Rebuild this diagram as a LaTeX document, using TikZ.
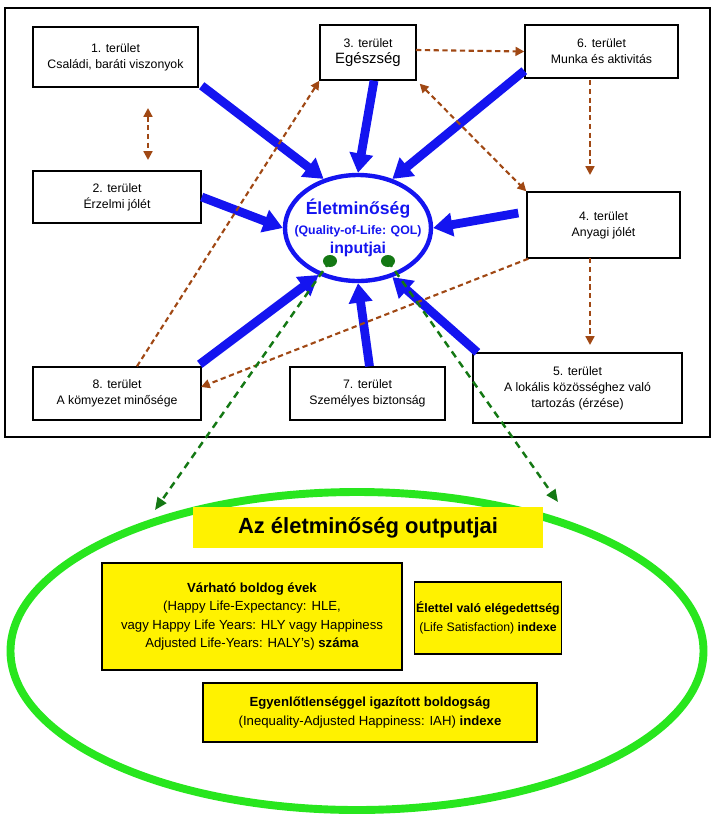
\documentclass[tikz,border=0pt]{standalone}
\usepackage{fontspec}
\setmainfont{Liberation Sans}
\usetikzlibrary{arrows.meta,shapes.geometric}
\definecolor{brn}{RGB}{160,72,20}
\definecolor{qblue}{RGB}{20,20,240}
\definecolor{dgreen}{RGB}{20,120,20}
\definecolor{lgreen}{RGB}{40,230,30}
\tikzset{
  area/.style={draw, line width=0.8pt, fill=white, align=center, inner sep=1pt,
    font=\fontsize{7}{9}\selectfont},
  inarrow/.style={qblue, line width=5pt, -{Triangle[length=11pt,width=13pt]}},
  link/.style={brn, dashed, line width=1.2pt, dash pattern=on 3pt off 2pt},
  outlink/.style={dgreen, line width=1.4pt, dash pattern=on 4pt off 3pt, -{Triangle[length=7pt,width=6pt]}},
  outbox/.style={draw, line width=0.9pt, fill=yellow, align=center, inner sep=1pt,
    font=\fontsize{7.5}{10.5}\selectfont}
}
\begin{document}
\begin{tikzpicture}[x=0.02cm, y=-0.02cm]
  \useasboundingbox (0,0) rectangle (715,819);
  % Frame
  \draw[line width=1pt] (5,8) rectangle (710,437);

  % Inputs
  \node[area, minimum width=165*0.02cm, minimum height=60*0.02cm] (b1) at (115.5,57) {1. terület\\Családi, baráti viszonyok};
  \node[area, minimum width=168*0.02cm, minimum height=52*0.02cm] (b2) at (117,197) {2. terület\\Érzelmi jólét};
  \node[area, minimum width=96*0.02cm, minimum height=55*0.02cm] (b3) at (368,52.5) {3. terület\\{\fontsize{8.5}{11}\selectfont Egészség}};
  \node[area, minimum width=153*0.02cm, minimum height=53*0.02cm] (b6) at (601.5,51.5) {6. terület\\Munka és aktivitás};
  \node[area, minimum width=153*0.02cm, minimum height=66*0.02cm] (b4) at (603.5,225) {4. terület\\Anyagi jólét};
  \node[area, minimum width=209*0.02cm, minimum height=70*0.02cm] (b5) at (577.5,388) {5. terület\\A lokális közösséghez való\\tartozás (érzése)};
  \node[area, minimum width=155*0.02cm, minimum height=53*0.02cm] (b7) at (367.5,393.5) {7. terület\\Személyes biztonság};
  \node[area, minimum width=168*0.02cm, minimum height=53*0.02cm] (b8) at (117,393.5) {8. terület\\A kömyezet minősége};

  % Centre
  \node[draw=qblue, line width=2.5pt, ellipse, inner sep=0pt, minimum width=146*0.02cm, minimum height=106*0.02cm] (qol) at (358,228) {};
  \node[align=center, text=qblue, font=\bfseries\fontsize{7}{11}\selectfont] (qoltext) at (qol)
    {{\fontsize{10}{12}\selectfont Életminőség}\\(Quality-of-Life: QOL)\\{\fontsize{9}{12}\selectfont inputjai}};

  \draw[inarrow] (b1.south east) ++(3,-2) -- (qol.125);
  \draw[inarrow] (b3.south) ++(6,0) -- (qol.north);
  \draw[inarrow] (b6.south west) ++(0,-8) -- (qol.55);
  \draw[inarrow] (b2.east) -- (qol.west);
  \draw[inarrow] (b4.west) ++(-8,-12) -- (qol.east);
  \draw[inarrow] (b8.north east) ++(-2,-2) -- (qol.-130);
  \draw[inarrow] (b7.north) ++(2,0) -- (qol.-90);
  \draw[inarrow] (b5.north west) ++(5,0) -- (qol.-55);

  % Links between areas
  \draw[link, {Triangle[length=5pt,width=5pt]}-{Triangle[length=5pt,width=5pt]}] (148,108) -- (148,160);
  \draw[link, -{Triangle[length=5pt,width=5pt]}] (b8.north) ++(20,0) -- (b3.south west);
  \draw[link, -{Triangle[length=5pt,width=5pt]}] (416,50) -- (b6.west);
  \draw[link, {Triangle[length=5pt,width=5pt]}-{Triangle[length=5pt,width=5pt]}] (b3.south east) ++(3,3) -- (b4.north west);
  \draw[link, -{Triangle[length=5pt,width=5pt]}] (590,80) -- (590,175);
  \draw[link, -{Triangle[length=5pt,width=5pt]}] (590,258) -- (590,345);
  \draw[link, -{Triangle[length=5pt,width=5pt]}] (b4.south west) ++(2,0) -- (201,387);

  % Outputs
  \node[draw=lgreen, line width=4.5pt, ellipse, inner sep=0pt, minimum width=693*0.02cm, minimum height=318*0.02cm] (out) at (357,651) {};
  \fill[dgreen] (330,261) ellipse (7*0.02cm and 6*0.02cm) coordinate (d1);
  \fill[dgreen] (388,261) ellipse (7*0.02cm and 6*0.02cm) coordinate (d2);
  \draw[outlink] (d1) -- (155,510);
  \draw[outlink] (d2) -- (558,502);

  \node[fill=yellow, minimum width=350*0.02cm, minimum height=41*0.02cm,
    font=\bfseries\fontsize{12.5}{14}\selectfont] (title) at (368,527.5) {Az életminőség outputjai};
  \node[outbox, minimum width=300*0.02cm, minimum height=107*0.02cm] (hle) at (252,616.5)
    {\textbf{Várható boldog évek}\\(Happy Life-Expectancy: HLE,\\vagy Happy Life Years: HLY vagy Happiness\\Adjusted Life-Years: HALY's) \textbf{száma}};
  \node[outbox, minimum width=144*0.02cm, minimum height=72*0.02cm, font=\fontsize{7}{10.5}\selectfont] (ls) at (488,618)
    {\textbf{Élettel való elégedettség}\\(Life Satisfaction) \textbf{indexe}};
  \node[outbox, minimum width=334*0.02cm, minimum height=59*0.02cm] (iah) at (370,712.5)
    {\textbf{Egyenlőtlenséggel igazított boldogság}\\(Inequality-Adjusted Happiness: IAH) \textbf{indexe}};
\end{tikzpicture}
\end{document}
